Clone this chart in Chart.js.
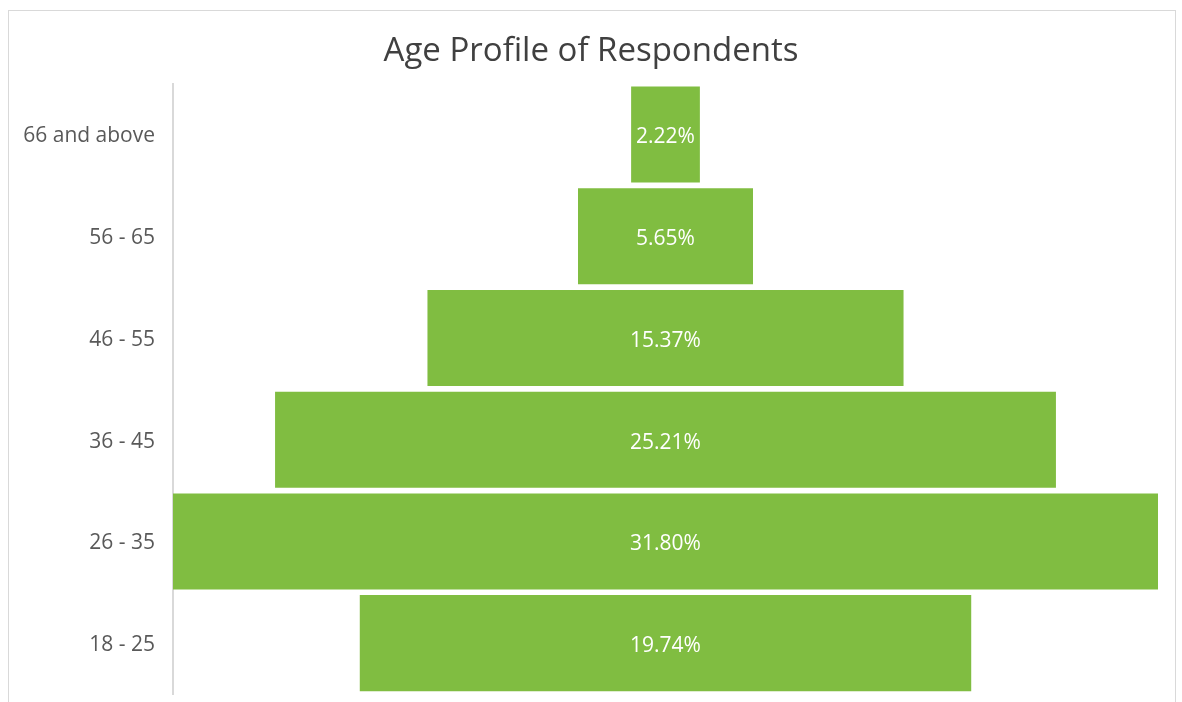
<!DOCTYPE html>
<html>
<head>
<meta charset="utf-8">
<script src="https://cdn.jsdelivr.net/npm/chart.js@4.4.1/dist/chart.umd.min.js"></script>
<style>
  html, body { margin: 0; padding: 0; background: #fff; }
  #wrap { position: relative; width: 1182px; height: 702px; overflow: hidden; }
  #frame { position: absolute; left: 8px; top: 10px; width: 1166px; height: 720px; border: 1px solid #d9d9d9; }
  canvas { position: absolute; left: 0; top: 0; }
</style>
</head>
<body>
<div id="wrap">
  <div id="frame"></div>
  <canvas id="funnel" width="1182" height="702"></canvas>
</div>
<script>
// Dados do gráfico (de cima para baixo)
const ageGroups = ['66 and above', '56 - 65', '46 - 55', '36 - 45', '26 - 35', '18 - 25'];
const sharePercent = [2.22, 5.65, 15.37, 25.21, 31.80, 19.74];

const maxShare = Math.max(...sharePercent);

// Barras flutuantes centradas em zero para formar o funil
const funnelData = sharePercent.map(v => [-v / 2, v / 2]);

// Plugin para escrever a porcentagem no centro de cada barra
const centerLabels = {
    id: 'centerLabels',
    afterDatasetsDraw(chart) {
        const ctx = chart.ctx;
        const meta = chart.getDatasetMeta(0);
        ctx.save();
        ctx.fillStyle = '#ffffff';
        ctx.font = '21px "Open Sans", sans-serif';
        ctx.textAlign = 'center';
        ctx.textBaseline = 'middle';
        meta.data.forEach((bar, i) => {
            const x = (bar.x + bar.base) / 2;
            ctx.fillText(sharePercent[i].toFixed(2) + '%', x, bar.y + 3);
        });
        ctx.restore();
    }
};

const ctx = document.getElementById('funnel').getContext('2d');
new Chart(ctx, {
    type: 'bar',
    data: {
        labels: ageGroups,
        datasets: [{
            data: funnelData,
            backgroundColor: '#80bd41',
            borderWidth: 0,
            barPercentage: 1,
            categoryPercentage: 0.944
        }]
    },
    options: {
        indexAxis: 'y',
        responsive: false,
        animation: false,
        layout: { padding: { left: 0, right: 0, top: 0, bottom: 8 } },
        scales: {
            x: {
                display: false,
                min: -maxShare / 2,
                // espaço livre à direita da maior barra (margem do gráfico)
                max: maxShare / 2 + maxShare * 24 / 985
            },
            y: {
                grid: { display: false, drawTicks: false },
                border: { display: true, color: '#d9d9d9', width: 2 },
                ticks: {
                    color: '#595959',
                    padding: 18,
                    labelOffset: 2,
                    font: { family: '"Open Sans", sans-serif', size: 21 }
                },
                afterFit(scale) {
                    scale.width = 173;
                    scale.paddingTop = 0;
                    scale.paddingBottom = 0;
                }
            }
        },
        plugins: {
            legend: { display: false },
            tooltip: { enabled: false },
            title: {
                display: true,
                text: 'Age Profile of Respondents',
                color: '#404040',
                font: { family: '"Open Sans", sans-serif', size: 33, weight: 'normal' },
                padding: { top: 32, bottom: 12 }
            }
        }
    },
    plugins: [centerLabels]
});
</script>
</body>
</html>
